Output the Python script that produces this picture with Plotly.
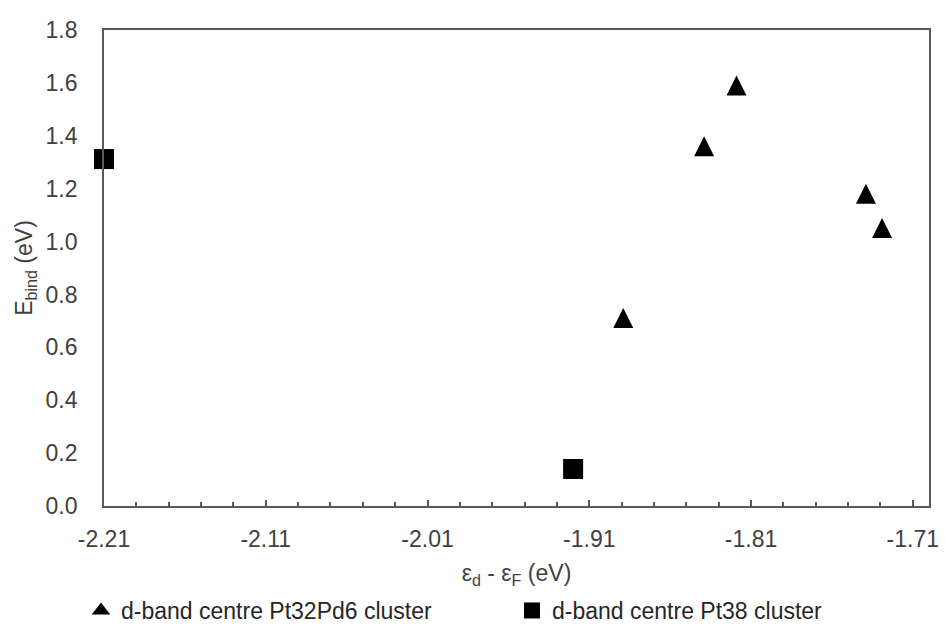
import plotly.graph_objects as go

# Data
pt32pd6_x = [-1.889, -1.839, -1.819, -1.739, -1.729]
pt32pd6_y = [0.711, 1.360, 1.590, 1.181, 1.051]
pt38_x = [-2.210, -1.920]
pt38_y = [1.312, 0.140]

series_names = ["d-band centre Pt32Pd6 cluster", "d-band centre Pt38 cluster"]
x_tickvals = [-2.21, -2.11, -2.01, -1.91, -1.81, -1.71]
x_ticktext = ["-2.21", "-2.11", "-2.01", "-1.91", "-1.81", "-1.71"]
y_tickvals = [0.0, 0.2, 0.4, 0.6, 0.8, 1.0, 1.2, 1.4, 1.6, 1.8]

FONT = "Liberation Sans, Arial, sans-serif"
TXT = "#404040"
LINE = "#5a5a5a"
FS = 23

fig = go.Figure()
# Data traces (legend entries drawn by the legend-only twins below)
fig.add_trace(go.Scatter(
    x=pt32pd6_x, y=pt32pd6_y, mode="markers", name=series_names[0],
    cliponaxis=False, showlegend=False, legendgroup="a",
    marker=dict(symbol="arrow-down", angle=180, standoff=10, size=20, color="black",
                line=dict(width=0)),
))
fig.add_trace(go.Scatter(
    x=pt38_x, y=pt38_y, mode="markers", name=series_names[1],
    cliponaxis=False, showlegend=False, legendgroup="b",
    marker=dict(symbol="square", size=20, color="black", line=dict(width=0)),
))
# Legend entries
fig.add_trace(go.Scatter(
    x=[None], y=[None], mode="markers", name=series_names[0], legendgroup="a",
    legend="legend",
    marker=dict(symbol="triangle-up", size=16, color="black", line=dict(width=0)),
))
fig.add_trace(go.Scatter(
    x=[None], y=[None], mode="markers", name=series_names[1], legendgroup="b",
    legend="legend2",
    marker=dict(symbol="square", size=16, color="black", line=dict(width=0)),
))

legend_common = dict(
    orientation="h", xanchor="left",
    yref="container", y=0, yanchor="bottom",
    font=dict(family=FONT, size=FS, color="#262626"),
    itemwidth=30, bgcolor="rgba(0,0,0,0)", borderwidth=0,
)

fig.update_layout(
    width=945, height=632,
    margin=dict(l=104, r=16, t=30, b=126, autoexpand=False),
    paper_bgcolor="white", plot_bgcolor="white",
    font=dict(family=FONT, size=FS, color=TXT),
    showlegend=True,
    legend=dict(xref="container", x=81 / 945, **legend_common),
    legend2=dict(xref="container", x=512 / 945, **legend_common),
)

fig.update_xaxes(
    range=[-2.21, -1.70],
    tickmode="array", tickvals=x_tickvals, ticktext=x_ticktext,
    ticks="inside", ticklen=6, tickwidth=1.5, tickcolor=LINE,
    minor=dict(ticks="inside", ticklen=4, tickwidth=1.5, tickcolor=LINE,
               tick0=-2.21, dtick=0.02),
    showline=True, linecolor=LINE, linewidth=1.75, mirror=True,
    showgrid=False, zeroline=False,
    tickfont=dict(size=FS, color=TXT),
    ticklabelstandoff=12,
    title=dict(text="ε<sub>d</sub> - ε<sub>F</sub> (eV)", font=dict(size=FS, color=TXT),
               standoff=34),
)
fig.update_yaxes(
    range=[0, 1.8],
    tickmode="array", tickvals=y_tickvals, tickformat=".1f",
    ticks="",
    showline=True, linecolor=LINE, linewidth=1.75, mirror=True,
    showgrid=False, zeroline=False,
    tickfont=dict(size=FS, color=TXT),
    ticklabelstandoff=20,
    title=dict(text="E<sub>bind</sub> (eV)", font=dict(size=FS, color=TXT), standoff=6),
)

fig.write_html("out.html")
